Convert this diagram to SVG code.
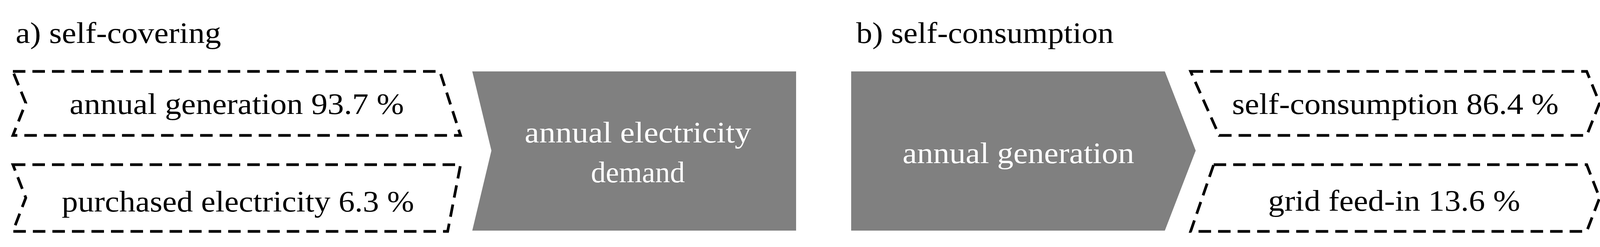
<svg xmlns="http://www.w3.org/2000/svg" width="4108" height="633" viewBox="0 0 4108 633">
<style>
text{font-family:"Liberation Serif","Times New Roman",serif;font-size:76px}
.t{fill:#000}
.w{fill:#fff}
.d{fill:none;stroke:#000;stroke-width:7;stroke-dasharray:32 18;stroke-linejoin:miter}
.g{fill:#808080}
</style>
<rect width="4108" height="633" fill="#fff"/>
<text class="t" x="40" y="110" textLength="526" lengthAdjust="spacingAndGlyphs">a) self-covering</text>
<text class="t" x="2192" y="110" textLength="659" lengthAdjust="spacingAndGlyphs">b) self-consumption</text>
<g id="gen-a">
<path class="d" d="M33,183 L1126,183 L1179,347 L33,347 L66,264 Z"/>
<text class="t" x="606" y="292" text-anchor="middle" textLength="856" lengthAdjust="spacingAndGlyphs">annual generation 93.7 %</text>
</g>
<g id="purchased">
<path class="d" d="M33,422 L1179,422 L1146,593 L33,593 L66,507 Z"/>
<text class="t" x="609" y="542" text-anchor="middle" textLength="902" lengthAdjust="spacingAndGlyphs">purchased electricity 6.3 %</text>
</g>
<g id="demand">
<path class="g" d="M1209,183 L2038,183 L2038,591 L1209,591 L1258,386 Z"/>
<text class="w" x="1633" y="365" text-anchor="middle" textLength="580" lengthAdjust="spacingAndGlyphs">annual electricity</text>
<text class="w" x="1633" y="467" text-anchor="middle">demand</text>
</g>
<g id="gen-b">
<path class="g" d="M2179,183 L2982,183 L3061,386 L2982,591 L2179,591 Z"/>
<text class="w" x="2607" y="418" text-anchor="middle" textLength="593" lengthAdjust="spacingAndGlyphs">annual generation</text>
</g>
<g id="selfcons">
<path class="d" d="M3048,183 L4062,183 L4095,264 L4062,347 L3121,347 Z"/>
<text class="t" x="3572" y="292" text-anchor="middle" textLength="836" lengthAdjust="spacingAndGlyphs">self-consumption 86.4 %</text>
</g>
<g id="feedin">
<path class="d" d="M3107,422 L4062,422 L4095,507 L4062,593 L3048,593 Z"/>
<text class="t" x="3569" y="540" text-anchor="middle" textLength="645" lengthAdjust="spacingAndGlyphs">grid feed-in 13.6 %</text>
</g>
<g id="connectors"/>
</svg>
